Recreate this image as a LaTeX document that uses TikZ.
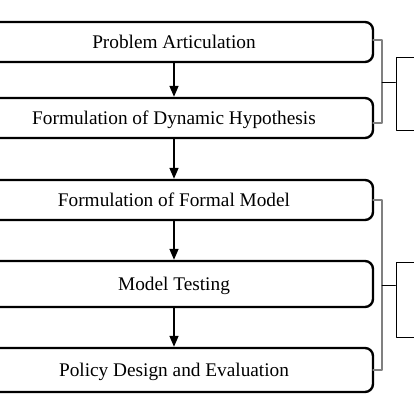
\documentclass[tikz,border=0pt]{standalone}
\usepackage{fontspec}
\setmainfont{Liberation Serif}
\usepackage{tikz}
\usetikzlibrary{arrows.meta}

\begin{document}
\begin{tikzpicture}[x=1pt,y=1pt,line cap=round,line join=round,>={Triangle[length=11pt,width=9pt]},
    font=\fontsize{19.3}{22}\selectfont,
    stepbox/.style={draw,line width=2.4pt,rounded corners=8pt,minimum width=398pt,inner sep=0pt,text depth=1pt},
    flow/.style={->,line width=1.6pt},
    brace/.style={draw=gray,line width=1.2pt},
    sidebox/.style={draw,line width=1pt,minimum width=40pt,inner sep=0pt}]
    \useasboundingbox (0,0) rectangle (414,414);
    \node[stepbox,minimum height=40pt] (articulation) at (174,372) {Problem Articulation};
    \node[stepbox,minimum height=40pt] (hypothesis) at (174,296) {Formulation of Dynamic Hypothesis};
    \node[stepbox,minimum height=40pt] (formal) at (174,214) {Formulation of Formal Model};
    \node[stepbox,minimum height=46pt] (testing) at (174,130) {Model Testing};
    \node[stepbox,minimum height=44pt] (policy) at (174,44) {Policy Design and Evaluation};
    \draw[flow] (articulation) -- (hypothesis);
    \draw[flow] (hypothesis) -- (formal);
    \draw[flow] (formal) -- (testing);
    \draw[flow] (testing) -- (policy);
    % brackets on the right
    \node[sidebox,minimum height=73pt] (phaseA) at (416,319.5) {};
    \node[sidebox,minimum height=75pt] (phaseB) at (416,113.5) {};
    \coordinate (tickA) at (382,332);
    \coordinate (tickB) at (382,129);
    \draw[brace] (373,374) -- (382,374) -- (382,291) -- (373,291);
    \draw[brace] (373,214) -- (382,214) -- (382,44) -- (373,44);
    \draw[line width=0.8pt] (tickA) -- (tickA -| phaseA.west);
    \draw[line width=0.8pt] (tickB) -- (tickB -| phaseB.west);
\end{tikzpicture}
\end{document}
